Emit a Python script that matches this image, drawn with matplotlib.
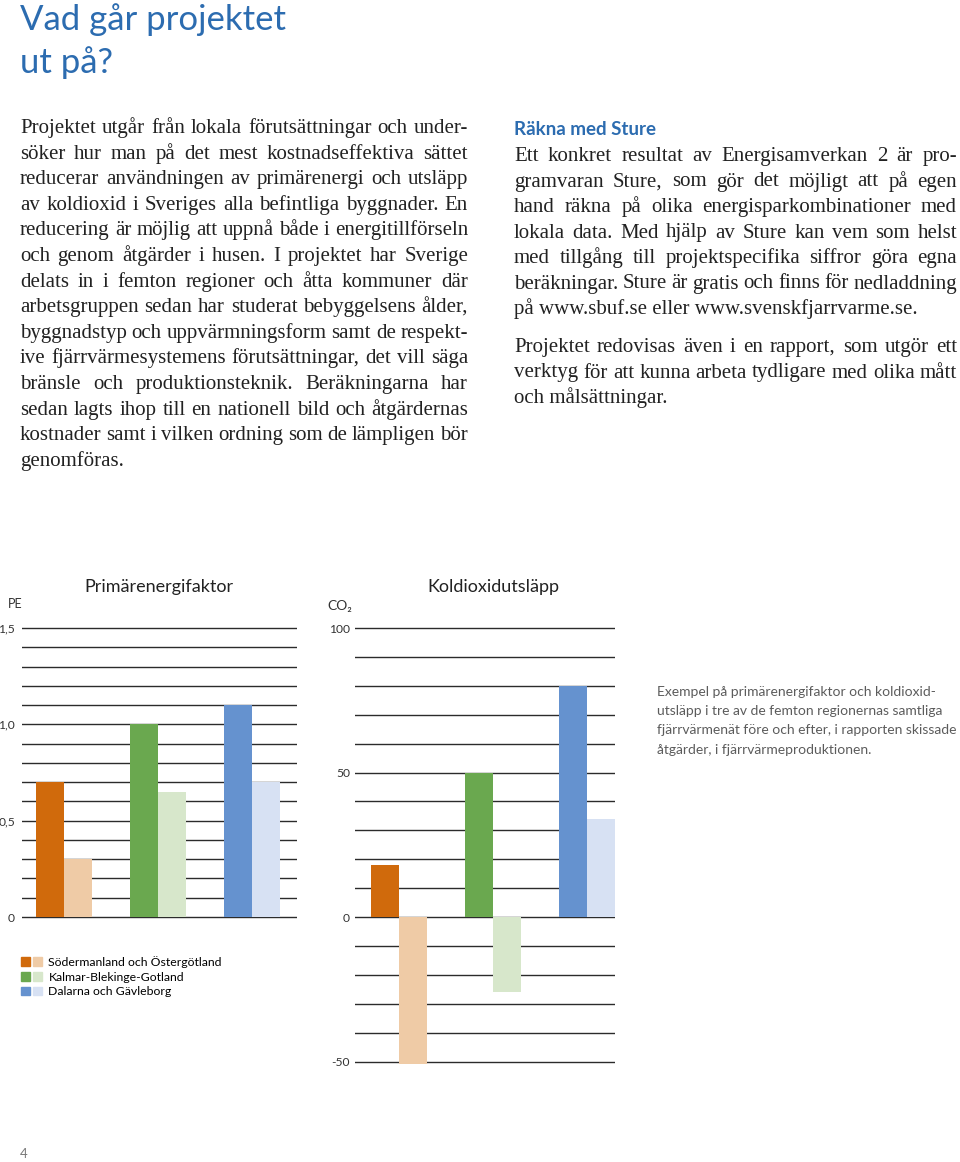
import numpy as np
import matplotlib
matplotlib.use("Agg")
from matplotlib import pyplot as plt
from matplotlib.patches import Patch
from matplotlib.legend_handler import HandlerTuple

### data ###

regions = ["Södermanland och Östergötland", "Kalmar-Blekinge-Gotland", "Dalarna och Gävleborg"]
pe_before = [0.70, 1.00, 1.10]
pe_after = [0.30, 0.65, 0.70]
co2_before = [18, 50, 80]
co2_after = [-51, -26, 34]
pe_ticks = [0, 0.5, 1.0, 1.5]
pe_ticklabels = ["0", "0,5", "1,0", "1,5"]
co2_ticks = [-50, 0, 50, 100]
co2_ticklabels = ["-50", "0", "50", "100"]

dark_colors = ["#d06a0c", "#6aa84f", "#6592cf"]
light_colors = ["#efcba6", "#d7e7cb", "#d7e1f3"]

left_text = [
    "Projektet utgår från lokala förutsättningar och under-",
    "söker hur man på det mest kostnadseffektiva sättet",
    "reducerar användningen av primärenergi och utsläpp",
    "av koldioxid i Sveriges alla befintliga byggnader. En",
    "reducering är möjlig att uppnå både i energitillförseln",
    "och genom åtgärder i husen. I projektet har Sverige",
    "delats in i femton regioner och åtta kommuner där",
    "arbetsgruppen sedan har studerat bebyggelsens ålder,",
    "byggnadstyp och uppvärmningsform samt de respekt-",
    "ive fjärrvärmesystemens förutsättningar, det vill säga",
    "bränsle och produktionsteknik. Beräkningarna har",
    "sedan lagts ihop till en nationell bild och åtgärdernas",
    "kostnader samt i vilken ordning som de lämpligen bör",
    "genomföras.",
]
right_text_1 = [
    "Ett konkret resultat av Energisamverkan 2 är pro-",
    "gramvaran Sture, som gör det möjligt att på egen",
    "hand räkna på olika energisparkombinationer med",
    "lokala data. Med hjälp av Sture kan vem som helst",
    "med tillgång till projektspecifika siffror göra egna",
    "beräkningar. Sture är gratis och finns för nedladdning",
    "på www.sbuf.se eller www.svenskfjarrvarme.se.",
]
right_text_2 = [
    "Projektet redovisas även i en rapport, som utgör ett",
    "verktyg för att kunna arbeta tydligare med olika mått",
    "och målsättningar.",
]
caption = [
    "Exempel på primärenergifaktor och koldioxid-",
    "utsläpp i tre av de femton regionernas samtliga",
    "fjärrvärmenät före och efter, i rapporten skissade",
    "åtgärder, i fjärrvärmeproduktionen.",
]

### page setup ###

W, H = 960, 1162
fig = plt.figure(figsize=(W / 100, H / 100), dpi=100)
renderer = fig.canvas.get_renderer()

def fx(x):
    return x / W

def fy(y):
    return 1 - y / H

SANS = ["Lato", "DejaVu Sans"]
SERIF = ["Liberation Serif", "DejaVu Serif"]
BLUE = "#2c6cb0"
INK = "#222222"

def draw_para(lines, x, y0, width, step, **kw):
    # justified block, last line left aligned
    for i, line in enumerate(lines):
        y = y0 + i * step
        if i == len(lines) - 1:
            fig.text(fx(x), fy(y), line, va="baseline", **kw)
            continue
        words = line.split(" ")
        texts = [fig.text(0, 0, w, va="baseline", **kw) for w in words]
        widths = [t.get_window_extent(renderer).width for t in texts]
        gap = (width - sum(widths)) / (len(words) - 1)
        cx = x
        for t, w in zip(texts, widths):
            t.set_position((fx(cx), fy(y)))
            cx += w + gap

# heading
fig.text(fx(20), fy(30), "Vad går projektet", family=SANS, fontsize=25, color=BLUE, va="baseline")
fig.text(fx(20), fy(73), "ut på?", family=SANS, fontsize=25, color=BLUE, va="baseline")

body = dict(family=SERIF, fontsize=15.0, color=INK)
draw_para(left_text, 20, 133, 448, 25.6, **body)
fig.text(fx(514), fy(135), "Räkna med Sture", family=SANS, fontsize=13.5, fontweight="bold", color=BLUE, va="baseline")
draw_para(right_text_1, 514, 161, 443, 25.5, **body)
draw_para(right_text_2, 514, 352, 443, 25.5, **body)

### charts ###

idx = np.arange(len(regions))
bw = 0.298
grid_kw = dict(color="#2b2b2b", lw=1.0, zorder=0)

def setup_axes(ax, minor, ticks, labels, pad):
    for s in ax.spines.values():
        s.set_visible(False)
    ax.set_xticks([])
    ax.set_yticks(ticks)
    ax.set_yticklabels(labels, family=SANS, fontsize=8.7, color="#333333")
    ax.tick_params(axis="y", length=0, pad=pad)
    for v in minor:
        ax.axhline(v, **grid_kw)
    ax.patch.set_visible(False)

# PE chart: 0 at y=917, 1.5 at y=628
pe_px = (917 - 628) / 1.5
pe_lo, pe_hi = -0.02, 1.52
ax1 = fig.add_axes([fx(22), fy(917 - pe_lo * pe_px), fx(275), (pe_hi - pe_lo) * pe_px / H])
ax1.set_ylim(pe_lo, pe_hi)
ax1.set_xlim(-42 / 94, -42 / 94 + 275 / 94)
ax1.bar(idx - bw / 2, pe_before, bw, color=dark_colors, zorder=2)
ax1.bar(idx + bw / 2, pe_after, bw, color=light_colors, zorder=2)
setup_axes(ax1, np.arange(0, 16) / 10, pe_ticks, pe_ticklabels, 5)

# CO2 chart: 0 at y=917, 100 at y=628
co_px = (917 - 628) / 100
co_lo, co_hi = -52, 102
ax2 = fig.add_axes([fx(355), fy(917 - co_lo * co_px), fx(260), (co_hi - co_lo) * co_px / H])
ax2.set_ylim(co_lo, co_hi)
ax2.set_xlim(-44 / 94, -44 / 94 + 260 / 94)
ax2.bar(idx - bw / 2, co2_before, bw, color=dark_colors, zorder=2)
ax2.bar(idx + bw / 2, co2_after, bw, color=light_colors, zorder=2)
setup_axes(ax2, np.arange(-5, 11) * 10, co2_ticks, co2_ticklabels, 3.6)

fig.text(fx(159), fy(592), "Primärenergifaktor", family=SANS, fontsize=13, color=INK, ha="center", va="baseline")
fig.text(fx(493), fy(592), "Koldioxidutsläpp", family=SANS, fontsize=13, color=INK, ha="center", va="baseline")
fig.text(fx(8), fy(608), "PE", family=SANS, fontsize=9, color="#333333", va="baseline")
fig.text(fx(327), fy(610), "CO₂", family=SANS, fontsize=10, color="#333333", va="baseline")

# legend with paired swatches
handles = [(Patch(color=d), Patch(color=l)) for d, l in zip(dark_colors, light_colors)]
fig.legend(handles, regions, loc="upper left", bbox_to_anchor=(fx(21), fy(956)),
           handler_map={tuple: HandlerTuple(ndivide=None, pad=0.25)},
           frameon=False, prop={"family": SANS, "size": 8.8},
           handlelength=1.75, handleheight=0.7, handletextpad=0.5, labelspacing=0.3,
           borderaxespad=0, borderpad=0)

for i, line in enumerate(caption):
    fig.text(fx(657), fy(696 + i * 19.2), line, family=SANS, fontsize=10.0, color="#5c5c5c", va="baseline")

fig.text(fx(20), fy(1158), "4", family=SANS, fontsize=9.5, color="#777777", va="baseline")

fig.savefig("out.png", dpi=100)
